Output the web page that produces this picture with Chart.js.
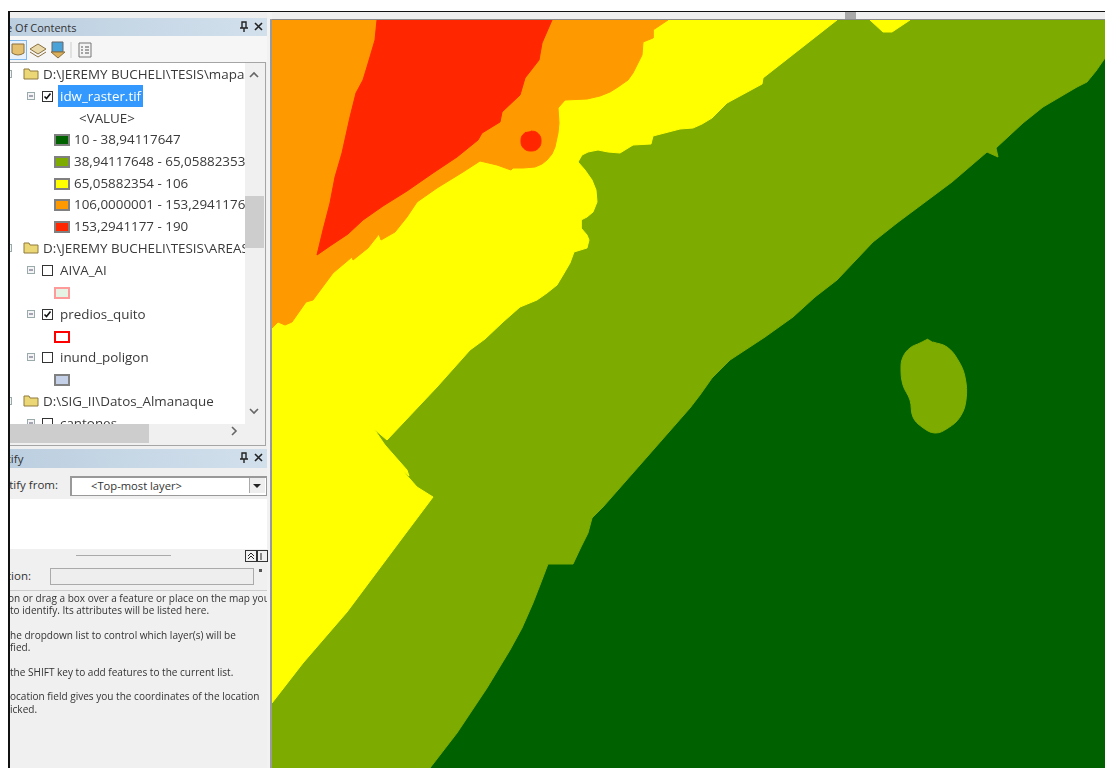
<!DOCTYPE html>
<html lang="es">
<head>
  <meta charset="UTF-8" />
  <title>idw_raster</title>
  <script src="https://cdn.jsdelivr.net/npm/chart.js"></script>
  <style>
    html, body { margin: 0; height: 100%; background: #fff; overflow: hidden; }
    body { font-family: "Open Sans", sans-serif; color: #333; position: relative; width: 1105px; height: 768px; }
    .box { position: absolute; }
    .t { position: absolute; white-space: nowrap; line-height: 20px; }
    #map { position: absolute; left: 272px; top: 20px; }
    #tree { position: absolute; left: 10px; top: 63px; width: 235px; height: 361px; overflow: hidden; background: #fff; filter: blur(0.3px); }
    #tree .t { font-size: 13.4px; color: #3a3a3a; }
    #help { position: absolute; left: 10px; top: 590px; width: 257px; height: 178px; overflow: hidden; filter: blur(0.25px); }
    #help .t { font-size: 10.05px; line-height: 12px; }
    .bar { background: linear-gradient(90deg, #bccfe0, #d2e0ec); }
    svg { position: absolute; }
  </style>
</head>
<body>

<!-- ventana -->
<div class="box" style="left:10px;top:12px;width:1095px;height:7px;background:#efefef"></div>
<div class="box" style="left:10px;top:19px;width:260px;height:749px;background:#f0f0f0"></div>
<div class="box" style="left:267px;top:12px;width:5px;height:756px;background:#f2f2f2"></div>
<div class="box" style="left:270px;top:19px;width:835px;height:1px;background:#8a8a8a"></div>
<div class="box" style="left:270px;top:19px;width:2px;height:749px;background:#9a9a9a"></div>
<div class="box" style="left:845px;top:12px;width:11px;height:7px;background:#a8a8a8"></div>
<div class="box" style="left:9px;top:11px;width:1096px;height:1px;background:#111"></div>
<div class="box" style="left:8px;top:11px;width:2px;height:757px;background:#111"></div>

<!-- tabla de contenidos -->
<div class="box bar" style="left:10px;top:18px;width:257px;height:18px"></div>
<div class="box" style="left:10px;top:18px;width:257px;height:18px;overflow:hidden">
  <span class="t" style="left:-25.6px;top:0;font-size:11px">Table Of Contents</span>
</div>
<svg style="left:239px;top:21px" width="26" height="12" viewBox="0 0 26 12">
  <path d="M3 1h4v6H3zM1 7h8M5 7v4" fill="none" stroke="#222" stroke-width="1.4"/>
  <path d="M16 2l7 7M23 2l-7 7" stroke="#222" stroke-width="1.6"/>
</svg>
<div class="box" style="left:10px;top:36px;width:257px;height:26px;background:#f6f6f6"></div>
<div class="box" style="left:10px;top:40px;width:16px;height:18px;border:1px solid #7fb8ea;border-left:none;background:#e8f1fa"></div>
<svg style="left:10px;top:40px" width="90" height="20" viewBox="0 0 90 20">
  <path d="M2 4h12v9q-6 4-12 0z" fill="#e3bf6e" stroke="#8a7040"/>
  <path d="M20 9l8-5 8 5-8 5z" fill="#e9d9a8" stroke="#8a7040"/>
  <path d="M20 12l8 5 8-5" fill="none" stroke="#8a7040"/>
  <path d="M42 2h11v10h-11z" fill="#4aa3d8" stroke="#666"/>
  <path d="M41 12h14l-7 6z" fill="#dcb05a" stroke="#8a7040"/>
  <path d="M61 2v16" stroke="#ccc"/>
  <path d="M69 3h12v14h-12z" fill="#f4f4f4" stroke="#777"/>
  <path d="M71 7h2M75 7h4M71 10h2M75 10h4M71 13h2M75 13h4" stroke="#555"/>
</svg>
<div class="box" style="left:10px;top:62px;width:255px;height:382px;border:1px solid #a5a5a5;border-left:none;background:#f0f0f0"></div>
<div id="tree"></div>
<div class="box" style="left:245px;top:63px;width:19px;height:361px;background:#f0f0f0"></div>
<div class="box" style="left:245px;top:196px;width:19px;height:52px;background:#cdcdcd"></div>
<div class="box" style="left:10px;top:424px;width:139px;height:19px;background:#cdcdcd"></div>
<svg style="left:225px;top:65px" width="40" height="375" viewBox="0 0 40 375">
  <path d="M25 12l4-4 4 4M25 344l4 4 4-4" fill="none" stroke="#666" stroke-width="1.6"/>
  <path d="M7 362l4 4-4 4" fill="none" stroke="#666" stroke-width="1.6"/>
</svg>

<!-- identificar -->
<div class="box bar" style="left:10px;top:449px;width:257px;height:19px"></div>
<div class="box" style="left:10px;top:449px;width:257px;height:19px;overflow:hidden">
  <span class="t" style="left:-27px;top:0;font-size:11.5px">Identify</span>
</div>
<svg style="left:239px;top:452px" width="26" height="12" viewBox="0 0 26 12">
  <path d="M3 1h4v6H3zM1 7h8M5 7v4" fill="none" stroke="#222" stroke-width="1.4"/>
  <path d="M16 2l7 7M23 2l-7 7" stroke="#222" stroke-width="1.6"/>
</svg>
<div class="box" style="left:10px;top:475px;width:60px;height:20px;overflow:hidden">
  <span class="t" style="right:12px;top:0;font-size:11.5px">Identify from:</span>
</div>
<div class="box" style="left:70px;top:476px;width:194px;height:17px;background:#fff;border:1px solid #999;border-left-width:2px;border-top-width:2px"></div>
<span class="t" style="left:91px;top:476px;font-size:11.2px">&lt;Top-most layer&gt;</span>
<div class="box" style="left:249px;top:478px;width:15px;height:15px;background:#eee;border-left:1px solid #aaa"></div>
<svg style="left:252px;top:482px" width="10" height="8"><path d="M1 2h8l-4 4z" fill="#222"/></svg>
<div class="box" style="left:10px;top:499px;width:257px;height:50px;background:#fff"></div>
<div class="box" style="left:76px;top:555px;width:95px;height:1px;background:#aaa"></div>
<div class="box" style="left:245px;top:550px;width:10px;height:10px;border:1px solid #333"></div>
<div class="box" style="left:257px;top:550px;width:9px;height:10px;border:1px solid #333"></div>
<svg style="left:246px;top:551px" width="20" height="10"><path d="M2 5l3-3 3 3M2 8l3-3 3 3" fill="none" stroke="#222"/><path d="M15 2v7" stroke="#222"/></svg>
<div class="box" style="left:10px;top:566px;width:40px;height:20px;overflow:hidden">
  <span class="t" style="right:19px;top:0;font-size:11.5px">Location:</span>
</div>
<div class="box" style="left:50px;top:568px;width:202px;height:15px;background:#eee;border:1px solid #aaa"></div>
<div class="box" style="left:259px;top:569px;width:3px;height:3px;background:#555"></div>
<div class="box" style="left:10px;top:590px;width:257px;height:1px;background:#ccc"></div>
<div id="help"></div>

<canvas id="map" width="833" height="748"></canvas>

<script>
  // tabla de contenidos
  const legendLabels = ["10 - 38,94117647", "38,94117648 - 65,05882353", "65,05882354 - 106", "106,0000001 - 153,2941176", "153,2941177 - 190"];
  const legendColors = ["#006100", "#7dab00", "#ffff00", "#ff9900", "#ff2600"];
  const groupLabels = ["D:\\JEREMY BUCHELI\\TESIS\\mapas", "D:\\JEREMY BUCHELI\\TESIS\\AREAS", "D:\\SIG_II\\Datos_Almanaque"];
  const helpLines = [
    "on or drag a box over a feature or place on the map you",
    "to identify. Its attributes will be listed here.",
    "",
    "he dropdown list to control which layer(s) will be",
    "fied.",
    "",
    "the SHIFT key to add features to the current list.",
    "",
    "ocation field gives you the coordinates of the location",
    "icked."
  ];

  // contornos de cada clase, en coordenadas del mapa
  const darkZone = [[272,20],[1105,20],[1105,768],[272,768]];
  const lightZone = [[272,20],[1105,20],[1105,58],[1096,71],[1087,82],[1077,87],[1043,107],[1023,123],[996,148],[998,157],[987,152],[952,182],[897,223],[873,242],[837,280],[815,297],[793,317],[765,337],[730,360],[712,378],[700,395],[690,408],[647,457],[603,507],[592,518],[588,533],[581,547],[573,564],[548,564],[540,585],[533,603],[522,628],[510,650],[487,688],[457,733],[430,768],[272,768]];
  const yellowZone = [[272,20],[837,20],[763,78],[762,84],[727,103],[718,112],[712,118],[702,124],[693,128],[680,129],[653,136],[651,144],[633,145],[620,153],[608,152],[598,150],[588,152],[582,155],[578,162],[585,170],[592,180],[596,190],[597,202],[593,212],[587,217],[581,220],[581,228],[587,235],[589,240],[587,248],[574,252],[570,263],[563,275],[557,285],[547,293],[537,300],[520,307],[503,322],[485,339],[470,350],[437,387],[387,440],[374,429],[385,445],[407,470],[409,476],[402,470],[410,479],[417,487],[433,497],[403,537],[347,612],[303,663],[272,703]];
  const yellowNotch = [[870,20],[883,32],[892,32],[910,20]];
  const orangeZone = [[272,20],[668,20],[653,30],[653,38],[643,42],[642,55],[638,63],[633,73],[628,80],[618,87],[610,92],[600,96],[587,99],[565,100],[558,108],[559,123],[558,133],[555,147],[552,154],[547,160],[542,164],[535,167],[523,168],[513,168],[511,170],[497,165],[480,161],[463,172],[437,188],[417,202],[407,217],[395,232],[381,240],[379,234],[368,248],[353,260],[352,257],[333,273],[313,300],[306,302],[292,322],[285,325],[278,322],[272,328]];
  const redZone = [[377,20],[375,40],[367,67],[363,80],[356,93],[350,117],[342,153],[335,177],[330,203],[323,230],[317,255],[330,246],[348,234],[363,220],[383,206],[407,191],[433,173],[457,157],[478,140],[482,133],[500,122],[502,112],[520,95],[525,78],[539,60],[542,43],[552,20]];
  const redSpot = [[531,131],[536,132],[540,136],[541,141],[540,146],[536,150],[531,151],[526,150],[522,146],[521,141],[522,136],[526,132]];
  const lightBlob = [[928,339],[920,343],[910,348],[903,357],[901,368],[903,385],[910,400],[913,417],[922,427],[935,433],[948,428],[960,417],[966,400],[965,377],[958,360],[947,347],[933,342]];

  function place(parent, html) {
    parent.insertAdjacentHTML("beforeend", html);
  }
  function folder(y) {
    return `<svg style="left:13px;top:${y - 8}px" width="16" height="14" viewBox="0 0 16 14"><path d="M1 3h5l1 2h8v8H1z" fill="#ecd777" stroke="#8f7b3c"/></svg>`;
  }
  function expander(x, y) {
    return `<svg style="left:${x}px;top:${y - 4}px" width="9" height="9"><rect x=".5" y=".5" width="7" height="7" fill="#f4f4f4" stroke="#9aa"/><path d="M2 4h4" stroke="#557"/></svg>`;
  }
  function checkbox(x, y, on) {
    const mark = on ? '<path d="M2.5 5.5l2 2 4-5" fill="none" stroke="#111" stroke-width="1.6"/>' : "";
    return `<svg style="left:${x}px;top:${y - 5}px" width="11" height="11"><rect x=".5" y=".5" width="10" height="10" fill="#fff" stroke="#333"/>${mark}</svg>`;
  }
  function swatch(y, fill, stroke) {
    return `<div class="box" style="left:44px;top:${y - 5}px;width:12px;height:8px;background:${fill};border:2px solid ${stroke}"></div>`;
  }
  function label(x, y, text) {
    const safe = text.replace(/</g, "&lt;").replace(/>/g, "&gt;");
    return `<span class="t" style="left:${x}px;top:${y - 10}px">${safe}</span>`;
  }

  const tree = document.getElementById("tree");
  // y relativo al árbol (top 63)
  place(tree, expander(-6, 11) + folder(11) + label(33, 11, groupLabels[0]));
  place(tree, expander(17, 33) + checkbox(32, 33, true));
  place(tree, `<div class="box" style="left:48px;top:22px;width:85px;height:22px;background:#3399ff"></div>`);
  place(tree, `<span class="t" style="left:50px;top:23px;color:#fff">idw_raster.tif</span>`);
  place(tree, label(69, 55, "<VALUE>"));
  legendLabels.forEach((text, i) => {
    const y = 76 + i * 21.8;
    place(tree, swatch(y, legendColors[i], "#808080") + label(64, y, text));
  });
  place(tree, expander(-6, 185) + folder(185) + label(33, 185, groupLabels[1]));
  place(tree, expander(17, 207) + checkbox(32, 207, false) + label(50, 207, "AIVA_AI"));
  place(tree, swatch(229, "#e4f3e4", "#ff9a9a"));
  place(tree, expander(17, 251) + checkbox(32, 251, true) + label(50, 251, "predios_quito"));
  place(tree, swatch(273, "#ffffff", "#ff0000"));
  place(tree, expander(17, 294) + checkbox(32, 294, false) + label(50, 294, "inund_poligon"));
  place(tree, swatch(316, "#c4cfe8", "#808080"));
  place(tree, expander(-6, 338) + folder(338) + label(33, 338, groupLabels[2]));
  place(tree, expander(17, 360) + checkbox(32, 360, false) + label(50, 360, "cantones"));

  const help = document.getElementById("help");
  helpLines.forEach((text, i) => {
    if (text) place(help, `<span class="t" style="left:${i === 0 ? -2 : 0}px;top:${2 + i * 12.3}px">${text}</span>`);
  });

  // el mapa: un dataset relleno por cada zona, el primero queda encima
  function zone(points, color, tension) {
    return {
      data: points.map(p => ({ x: p[0], y: p[1] })),
      showLine: true,
      fill: "shape",
      tension: tension,
      pointRadius: 0,
      borderWidth: 1,
      borderColor: color,
      backgroundColor: color
    };
  }

  new Chart(document.getElementById("map"), {
    type: "scatter",
    data: {
      datasets: [
        zone(redSpot, legendColors[4], 0.4),
        zone(lightBlob, legendColors[1], 0.4),
        zone(redZone, legendColors[4], 0),
        zone(orangeZone, legendColors[3], 0),
        zone(yellowNotch, legendColors[2], 0),
        zone(yellowZone, legendColors[2], 0),
        zone(lightZone, legendColors[1], 0),
        zone(darkZone, legendColors[0], 0)
      ]
    },
    options: {
      responsive: false,
      animation: false,
      layout: { padding: 0 },
      plugins: { legend: { display: false }, tooltip: { enabled: false } },
      scales: {
        x: { type: "linear", min: 272, max: 1105, display: false },
        y: { type: "linear", min: 20, max: 768, reverse: true, display: false }
      }
    }
  });
</script>
</body>
</html>
